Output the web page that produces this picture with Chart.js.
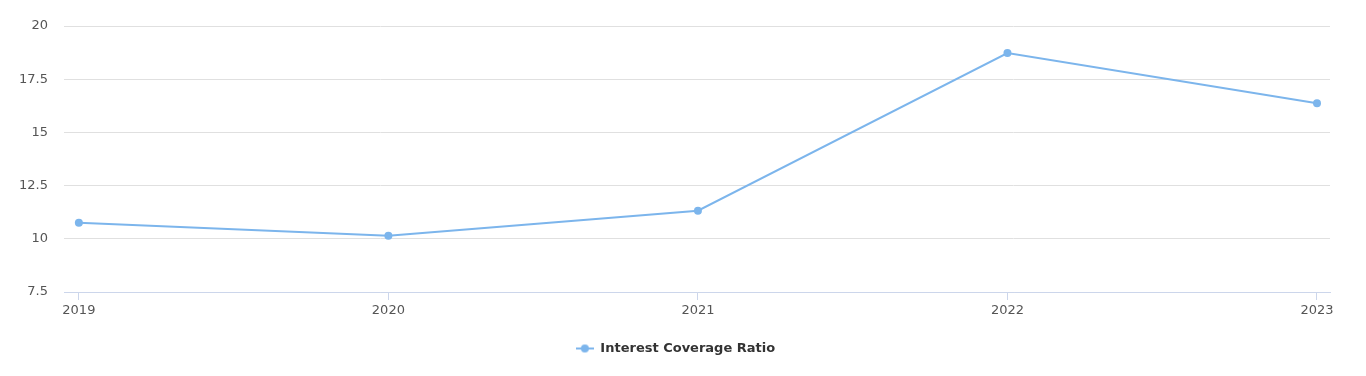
<!DOCTYPE html>
<html>
<head>
<meta charset="utf-8">
<script src="https://cdn.jsdelivr.net/npm/chart.js@4/dist/chart.umd.min.js"></script>
<style>
  html,body{margin:0;padding:0;background:#fff;}
  #wrap{width:1366px;height:376px;position:relative;}
</style>
</head>
<body>
<div id="wrap"><canvas id="icr"></canvas></div>
<script>
// values
const years = [2019, 2020, 2021, 2022, 2023];
const coverage = [10.75, 10.14, 11.32, 18.73, 16.37];
const yTicks = [7.5, 10, 12.5, 15, 17.5, 20];
const seriesName = 'Interest Coverage Ratio';

const lineColor = '#7cb5ec';
const labelColor = '#555555';
const fontFamily = '"DejaVu Sans", Arial, sans-serif';

// legend symbol: short line with a dot in the middle
function legendSymbol(){
  const c = document.createElement('canvas');
  c.width = 18; c.height = 10;
  const g = c.getContext('2d');
  g.strokeStyle = lineColor; g.lineWidth = 2;
  g.beginPath(); g.moveTo(0,5); g.lineTo(18,5); g.stroke();
  g.fillStyle = lineColor;
  g.beginPath(); g.arc(9,5,4,0,Math.PI*2); g.fill();
  return c;
}

document.addEventListener('DOMContentLoaded', ()=>{
  const ctx = document.getElementById('icr').getContext('2d');

  const chart = new Chart(ctx, {
    type: 'line',
    data: {
      datasets: [{
        label: seriesName,
        data: years.map((y,i)=>({x:y, y:coverage[i]})),
        borderColor: lineColor,
        backgroundColor: lineColor,
        borderWidth: 2,
        pointRadius: 4,
        pointHoverRadius: 5,
        pointBorderWidth: 0,
        pointStyle: 'circle',
        tension: 0
      }]
    },
    options: {
      responsive: true,
      maintainAspectRatio: false,
      animation: false,
      // small right padding so the legend centres on the page like the original
      layout: { padding: { top: 26, right: 15, bottom: 11, left: 0 } },
      plugins: {
        legend: {
          position: 'bottom',
          labels: {
            usePointStyle: true,
            pointStyle: legendSymbol(),
            pointStyleWidth: 18,
            padding: 10,
            color: '#333333',
            font: { family: fontFamily, size: 13, weight: 'bold' }
          }
        },
        tooltip: { enabled: false }
      },
      scales: {
        x: {
          type: 'linear',
          min: years[0] - 0.048,
          max: years[years.length-1] + 0.042,
          afterBuildTicks: (s)=>{ s.ticks = years.map(v=>({value:v})); },
          afterFit: (s)=>{ s.height = 40; },
          grid: { drawOnChartArea: false, drawTicks: true, tickLength: 8, color: '#ccd6eb' },
          border: { display: true, color: '#ccd6eb' },
          ticks: {
            color: labelColor,
            padding: 3,
            maxRotation: 0,
            font: { family: fontFamily, size: 13 },
            callback: (v)=>String(v)
          }
        },
        y: {
          min: yTicks[0],
          max: yTicks[yTicks.length-1],
          afterBuildTicks: (s)=>{ s.ticks = yTicks.map(v=>({value:v})); },
          afterFit: (s)=>{ s.width = 64; },
          grid: { color: '#e0e0e0', drawTicks: false },
          border: { display: false },
          ticks: {
            color: labelColor,
            padding: 16,
            font: { family: fontFamily, size: 13 }
          }
        },
        // empty spacer on the right, keeps the plot edge at the same place
        spacer: {
          type: 'linear',
          position: 'right',
          display: true,
          afterFit: (s)=>{ s.width = 21; },
          grid: { display: false },
          border: { display: false },
          ticks: { display: false }
        }
      }
    }
  });
  window._icrChart = chart;
});
</script>
</body>
</html>
